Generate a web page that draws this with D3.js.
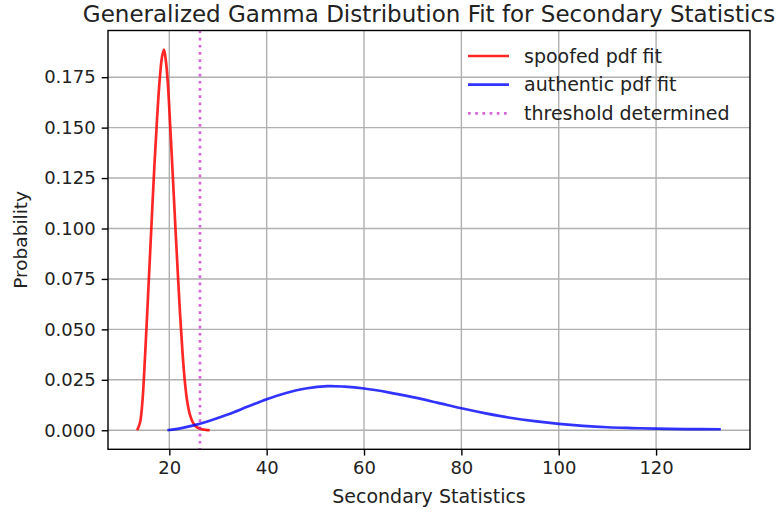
<!DOCTYPE html>
<html>
<head>
<meta charset="utf-8">
<script src="https://cdn.jsdelivr.net/npm/d3@7"></script>
<style>
  html, body { margin: 0; padding: 0; background: #fff; }
  svg { display: block; font-family: "DejaVu Sans", sans-serif; }
</style>
</head>
<body>
<svg id="chart" width="777" height="514"></svg>
<script>
// ---- data ----
const spoofedX = [13.4, 14.0, 14.5, 15.0, 15.5, 16.0, 16.5, 17.0, 17.5, 18.0, 18.5, 18.9, 19.3, 19.7, 20.2, 20.7, 21.2, 21.7, 22.2, 22.7, 23.2, 23.7, 24.2, 24.8, 25.5, 26.5, 27.5, 28.3];
const spoofedY = [0, 0.004, 0.015, 0.036, 0.060, 0.085, 0.110, 0.134, 0.155, 0.173, 0.185, 0.1887, 0.183, 0.172, 0.150, 0.127, 0.103, 0.080, 0.058, 0.039, 0.024, 0.014, 0.008, 0.004, 0.0018, 0.0006, 0.0002, 0];
const authenticX = [19.6, 22, 25, 28, 32, 36, 40, 44, 48, 52.5, 56, 60, 65, 70, 75, 80, 85, 90, 95, 100, 105, 110, 115, 120, 126, 133.3];
const authenticY = [0, 0.0008, 0.0024, 0.0045, 0.0078, 0.0116, 0.0154, 0.0185, 0.0207, 0.0219, 0.0216, 0.0207, 0.0188, 0.0164, 0.0137, 0.0109, 0.0084, 0.0062, 0.0045, 0.0032, 0.0022, 0.0015, 0.0011, 0.0008, 0.0006, 0.0005];
const threshold = 26.3;
const xTicks = [20, 40, 60, 80, 100, 120];
const yTicks = [0, 0.025, 0.05, 0.075, 0.1, 0.125, 0.15, 0.175];
const seriesNames = ["spoofed pdf fit", "authentic pdf fit", "threshold determined"];
const titleText = "Generalized Gamma Distribution Fit for Secondary Statistics";
const xLabel = "Secondary Statistics";
const yLabel = "Probability";

// ---- layout ----
const svg = d3.select("#chart");
const L = 108, R = 750, T = 30.5, B = 449.3;

const allX = spoofedX.concat(authenticX);
const allY = spoofedY.concat(authenticY);
const [x0, x1] = d3.extent(allX);
const [y0, y1] = d3.extent(allY);
const px = (x1 - x0) * 0.05, py = (y1 - y0) * 0.05;

const x = d3.scaleLinear().domain([x0 - px, x1 + px]).range([L, R]);
const y = d3.scaleLinear().domain([y0 - py, y1 + py]).range([B, T]);

const spoofed = spoofedX.map((v, i) => [v, spoofedY[i]]);
const authentic = authenticX.map((v, i) => [v, authenticY[i]]);

// grid
const grid = svg.append("g");
grid.selectAll(".gx").data(xTicks).join("line")
  .attr("x1", d => x(d)).attr("x2", d => x(d)).attr("y1", T).attr("y2", B)
  .attr("stroke", "#b0b0b0").attr("stroke-width", 1.4);
grid.selectAll(".gy").data(yTicks).join("line")
  .attr("y1", d => y(d)).attr("y2", d => y(d)).attr("x1", L).attr("x2", R)
  .attr("stroke", "#b0b0b0").attr("stroke-width", 1.4);

// lines
const line = d3.line().x(d => x(d[0])).y(d => y(d[1])).curve(d3.curveCatmullRom.alpha(0.5));
svg.append("clipPath").attr("id", "clip").append("rect")
  .attr("x", L).attr("y", T).attr("width", R - L).attr("height", B - T);
const plot = svg.append("g").attr("clip-path", "url(#clip)");

plot.append("path").datum(spoofed).attr("d", line)
  .attr("fill", "none").attr("stroke", "red").attr("stroke-opacity", 0.85).attr("stroke-width", 2.7)
  .attr("stroke-linejoin", "round");
plot.append("path").datum(authentic).attr("d", line)
  .attr("fill", "none").attr("stroke", "blue").attr("stroke-opacity", 0.8).attr("stroke-width", 2.7)
  .attr("stroke-linejoin", "round");
plot.append("line")
  .attr("x1", x(threshold)).attr("x2", x(threshold)).attr("y1", T).attr("y2", B)
  .attr("stroke", "#bf00bf").attr("stroke-opacity", 0.6).attr("stroke-width", 2.7)
  .attr("stroke-dasharray", "2.7,4.5");

// axes
const xAxis = d3.axisBottom(x).tickValues(xTicks).tickFormat(d3.format("d")).tickSizeInner(6.3).tickSizeOuter(0).tickPadding(6);
const yAxis = d3.axisLeft(y).tickValues(yTicks).tickFormat(d3.format(".3f")).tickSizeInner(6.3).tickSizeOuter(0).tickPadding(6);

const gx = svg.append("g").attr("transform", `translate(0,${B})`).call(xAxis);
const gy = svg.append("g").attr("transform", `translate(${L},0)`).call(yAxis);
[gx, gy].forEach(g => {
  g.select(".domain").remove();
  g.selectAll("line").attr("stroke", "#000").attr("stroke-width", 1.4);
  g.selectAll("text").attr("font-size", 18).attr("fill", "#222").attr("font-family", "DejaVu Sans");
});

// frame
svg.append("rect").attr("x", L).attr("y", T).attr("width", R - L).attr("height", B - T)
  .attr("fill", "none").attr("stroke", "#000").attr("stroke-width", 1.4);

// title and labels
svg.append("text").attr("x", (L + R) / 2).attr("y", 22).attr("text-anchor", "middle")
  .attr("font-size", 23).attr("fill", "#222").text(titleText);
svg.append("text").attr("x", (L + R) / 2).attr("y", 503).attr("text-anchor", "middle")
  .attr("font-size", 19).attr("fill", "#222").text(xLabel);
svg.append("text").attr("transform", `translate(27,${(T + B) / 2}) rotate(-90)`).attr("text-anchor", "middle")
  .attr("font-size", 18.5).attr("fill", "#222").text(yLabel);

// legend
const legendStyles = [
  { color: "red", op: 0.85, dash: null },
  { color: "blue", op: 0.8, dash: null },
  { color: "#bf00bf", op: 0.6, dash: "2.7,4.5" }
];
const lg = svg.append("g");
seriesNames.forEach((name, i) => {
  const yy = 56 + i * 28.7;
  const st = legendStyles[i];
  const ln = lg.append("line").attr("x1", 468).attr("x2", 509).attr("y1", yy).attr("y2", yy)
    .attr("stroke", st.color).attr("stroke-opacity", st.op).attr("stroke-width", 2.7);
  if (st.dash) ln.attr("stroke-dasharray", st.dash);
  lg.append("text").attr("x", 524).attr("y", yy + 6.5).attr("font-size", 19).attr("fill", "#222").text(name);
});
</script>
</body>
</html>
